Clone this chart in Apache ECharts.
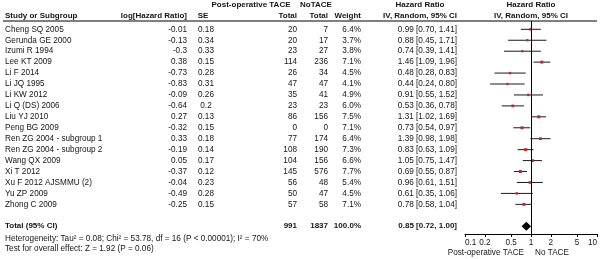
<!DOCTYPE html>
<html>
<head>
<meta charset="utf-8">
<script src="https://cdn.jsdelivr.net/npm/echarts@6.0.0/dist/echarts.min.js"></script>
<style>
html, body { margin: 0; padding: 0; background: #fff; }
#chart { width: 600px; height: 259px; }
</style>
</head>
<body>
<div id="chart"></div>
<script>
// forest plot data
const studies = ['Cheng SQ 2005', 'Gerunda GE 2000', 'Izumi R 1994', 'Lee KT 2009', 'Li F 2014', 'Li JQ 1995',
  'Li KW 2012', 'Li Q (DS) 2006', 'Liu YJ 2010', 'Peng BG 2009', 'Ren ZG 2004 - subgroup 1',
  'Ren ZG 2004 - subgroup 2', 'Wang QX 2009', 'Xi T 2012', 'Xu F 2012 AJSMMU (2)', 'Yu ZP 2009', 'Zhong C 2009']
const logHR = ['-0.01', '-0.13', '-0.3', '0.38', '-0.73', '-0.83', '-0.09', '-0.64', '0.27', '-0.32', '0.33',
  '-0.19', '0.05', '-0.37', '-0.04', '-0.49', '-0.25']
const se = ['0.18', '0.34', '0.33', '0.15', '0.28', '0.31', '0.26', '0.2', '0.13', '0.15', '0.18',
  '0.14', '0.17', '0.12', '0.23', '0.28', '0.15']
const totalTace = [20, 20, 23, 114, 26, 47, 35, 23, 86, 0, 77, 108, 104, 145, 56, 50, 57]
const totalNoTace = [7, 17, 27, 236, 34, 47, 41, 23, 156, 0, 174, 190, 156, 576, 48, 47, 58]
const weights = [6.4, 3.7, 3.8, 7.1, 4.5, 4.1, 4.9, 6.0, 7.5, 7.1, 6.4, 7.3, 6.6, 7.7, 5.4, 4.5, 7.1]
const hr = [0.99, 0.88, 0.74, 1.46, 0.48, 0.44, 0.91, 0.53, 1.31, 0.73, 1.39, 0.83, 1.05, 0.69, 0.96, 0.61, 0.78]
const ciLow = [0.70, 0.45, 0.39, 1.09, 0.28, 0.24, 0.55, 0.36, 1.02, 0.54, 0.98, 0.63, 0.75, 0.55, 0.61, 0.35, 0.58]
const ciHigh = [1.41, 1.71, 1.41, 1.96, 0.83, 0.80, 1.52, 0.78, 1.69, 0.97, 1.98, 1.09, 1.47, 0.87, 1.51, 1.06, 1.04]

const pooledHR = 0.85
const pooledLow = 0.72
const pooledHigh = 1.00
const totals = ['991', '1837', '100.0%']
const heterogeneity = 'Heterogeneity: Tau² = 0.08; Chi² = 53.78, df = 16 (P < 0.00001); I² = 70%'
const overallTest = 'Test for overall effect: Z = 1.92 (P = 0.06)'

const tickValues = [0.1, 0.2, 0.5, 1, 2, 5, 10]
const tickLabels = ['0.1', '0.2', '0.5', '1', '2', '5', '10']

const FONT = '"Liberation Sans", Arial, sans-serif'
const TXT = '#151515'
const FS = 8.2
const TOTAL_ROW = 18

const fmtCI = (h, l, u) => h.toFixed(2) + ' [' + l.toFixed(2) + ', ' + u.toFixed(2) + ']'
const lg = v => Math.log10(v)

function txt (text, x, y, align, bold) {
  return {
    type: 'text',
    style: {
      text: text, x: x, y: y, fill: TXT, align: align, verticalAlign: 'middle',
      fontSize: bold ? 8 : FS, fontWeight: bold ? 'bold' : 'normal', fontFamily: FONT
    }
  }
}

const chart = echarts.init(document.getElementById('chart'))

const studyData = studies.map((s, i) => [lg(hr[i]), lg(ciLow[i]), lg(ciHigh[i]), i])

chart.setOption({
  animation: false,
  backgroundColor: '#fff',
  grid: { left: 465, right: 3, top: 21, bottom: 25, containLabel: false, outerBoundsMode: 'none' },
  xAxis: {
    type: 'value',
    min: -1,
    max: 1,
    axisLine: { onZero: false, lineStyle: { color: '#000', width: 1 } },
    axisTick: { customValues: tickValues.map(lg), length: 3, lineStyle: { color: '#000' } },
    axisLabel: {
      customValues: tickValues.map(lg),
      margin: 5,
      color: TXT,
      fontSize: FS,
      fontFamily: FONT,
      hideOverlap: false,
      alignMinLabel: 'left',
      alignMaxLabel: 'right',
      formatter: v => {
        const i = tickValues.findIndex(t => Math.abs(lg(t) - v) < 1e-6)
        return i >= 0 ? tickLabels[i] : ''
      }
    },
    splitLine: { show: false }
  },
  yAxis: {
    type: 'value',
    inverse: true,
    min: -0.76,
    max: 18.71,
    show: false
  },
  graphic: [
    { type: 'line', shape: { x1: 3, y1: 21, x2: 597, y2: 21 }, style: { stroke: '#000', lineWidth: 1 } },
    txt('Post-operative TACE', 251, 5, 'center', true),
    txt('NoTACE', 316, 5, 'center', true),
    txt('Hazard Ratio', 420, 5, 'center', true),
    txt('Hazard Ratio', 531, 5, 'center', true),
    txt('Study or Subgroup', 5, 16, 'left', true),
    txt('log[Hazard Ratio]', 187, 16, 'right', true),
    txt('SE', 203, 16, 'center', true),
    txt('Total', 297, 16, 'right', true),
    txt('Total', 328, 16, 'right', true),
    txt('Weight', 361, 16, 'right', true),
    txt('IV, Random, 95% CI', 457, 16, 'right', true),
    txt('IV, Random, 95% CI', 531, 16, 'center', true),
    txt(heterogeneity, 5, 239, 'left', false),
    txt(overallTest, 5, 249, 'left', false),
    txt('Post-operative TACE', 524, 253, 'right', false),
    txt('No TACE', 535, 253, 'left', false)
  ],
  series: [
    {
      // text columns of the table
      type: 'custom',
      silent: true,
      clip: false,
      data: studyData,
      renderItem: (params, api) => {
        const i = params.dataIndex
        const y = api.coord([0, api.value(3)])[1]
        return {
          type: 'group',
          children: [
            txt(studies[i], 5, y, 'left'),
            txt(logHR[i], 187, y, 'right'),
            txt(se[i], 206, y, 'center'),
            txt(String(totalTace[i]), 297, y, 'right'),
            txt(String(totalNoTace[i]), 328, y, 'right'),
            txt(weights[i].toFixed(1) + '%', 361, y, 'right'),
            txt(fmtCI(hr[i], ciLow[i], ciHigh[i]), 457, y, 'right')
          ]
        }
      }
    },
    {
      // total row text
      type: 'custom',
      silent: true,
      clip: false,
      data: [[0, TOTAL_ROW]],
      renderItem: (params, api) => {
        const y = api.coord([0, api.value(1)])[1]
        return {
          type: 'group',
          children: [
            txt('Total (95% CI)', 5, y, 'left', true),
            txt(totals[0], 297, y, 'right', true),
            txt(totals[1], 328, y, 'right', true),
            txt(totals[2], 361, y, 'right', true),
            txt(fmtCI(pooledHR, pooledLow, pooledHigh), 457, y, 'right', true)
          ]
        }
      }
    },
    {
      // confidence intervals and point estimates
      type: 'custom',
      silent: true,
      data: studyData,
      renderItem: (params, api) => {
        const row = api.value(3)
        const c = api.coord([api.value(0), row])
        const a = api.coord([api.value(1), row])
        const b = api.coord([api.value(2), row])
        const s = 1.5 + weights[params.dataIndex] * 0.2
        return {
          type: 'group',
          children: [
            { type: 'line', shape: { x1: a[0], y1: a[1], x2: b[0], y2: b[1] }, style: { stroke: '#1a1a1a', lineWidth: 1 } },
            { type: 'rect', shape: { x: c[0] - s / 2, y: c[1] - s / 2, width: s, height: s }, style: { fill: '#c0282d' } }
          ]
        }
      },
      markLine: {
        silent: true,
        symbol: 'none',
        label: { show: false },
        lineStyle: { color: '#000', width: 1, type: 'solid' },
        data: [{ xAxis: 0 }]
      }
    },
    {
      // pooled diamond
      type: 'custom',
      silent: true,
      data: [[lg(pooledHR), lg(pooledLow), lg(pooledHigh), TOTAL_ROW]],
      renderItem: (params, api) => {
        const row = api.value(3)
        const c = api.coord([api.value(0), row])
        const a = api.coord([api.value(1), row])
        const b = api.coord([api.value(2), row])
        return {
          type: 'polygon',
          shape: { points: [[a[0], c[1]], [c[0], c[1] - 4.5], [b[0], c[1]], [c[0], c[1] + 4.5]] },
          style: { fill: '#000' }
        }
      }
    }
  ]
})
</script>
</body>
</html>
